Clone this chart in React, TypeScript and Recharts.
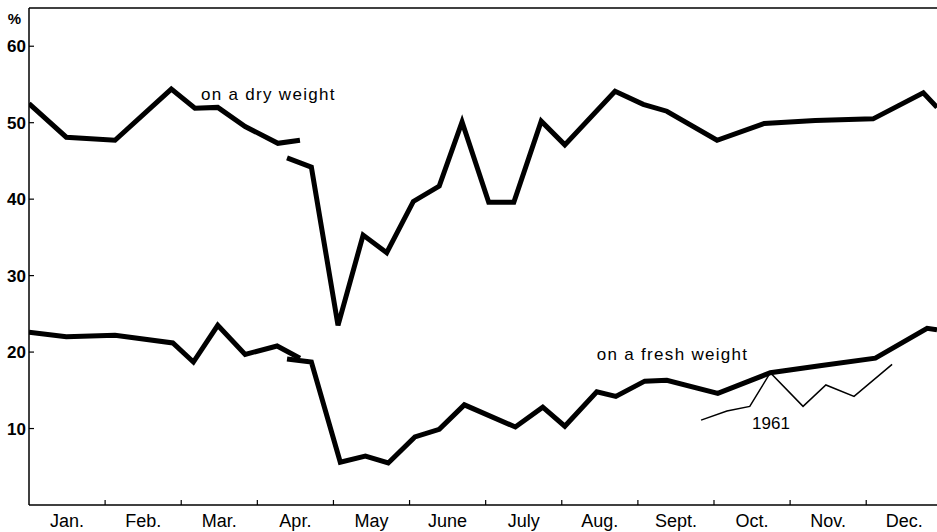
import { LineChart, Line, XAxis, YAxis, ReferenceLine, ReferenceDot } from 'recharts';

// month labels sit at the centre of each month, boundaries get a small tick
const monthLabels = ['Jan.', 'Feb.', 'Mar.', 'Apr.', 'May', 'June', 'July', 'Aug.', 'Sept.', 'Oct.', 'Nov.', 'Dec.'];
const monthCenters = [0.5, 1.5, 2.5, 3.5, 4.5, 5.5, 6.5, 7.5, 8.5, 9.5, 10.5, 11.5];
const monthBounds = [1, 2, 3, 4, 5, 6, 7, 8, 9, 10, 11];
const yTicks = [10, 20, 30, 40, 50, 60];

// x = position in months from 1 Jan, y = %
const dryEarlyX = [0.0, 0.49, 1.13, 1.87, 2.18, 2.48, 2.84, 3.27, 3.56];
const dryEarlyY = [52.5, 48.1, 47.7, 54.4, 51.9, 52.0, 49.5, 47.3, 47.7];

const dryLateX = [3.39, 3.71, 4.06, 4.39, 4.7, 5.05, 5.39, 5.69, 6.04, 6.37, 6.73, 7.04, 7.7, 8.07, 8.38, 9.04, 9.66, 10.33, 11.09, 11.75, 11.93];
const dryLateY = [45.4, 44.2, 23.5, 35.3, 33.0, 39.7, 41.7, 50.1, 39.6, 39.6, 50.2, 47.1, 54.1, 52.4, 51.5, 47.7, 49.9, 50.3, 50.5, 53.9, 52.0];

const freshEarlyX = [0.0, 0.49, 1.13, 1.89, 2.16, 2.48, 2.84, 3.26, 3.56];
const freshEarlyY = [22.6, 22.0, 22.2, 21.2, 18.7, 23.5, 19.7, 20.8, 19.2];

const freshLateX = [3.39, 3.71, 4.09, 4.42, 4.72, 5.07, 5.39, 5.72, 6.39, 6.75, 7.04, 7.46, 7.71, 8.09, 8.38, 9.05, 9.74, 10.39, 11.12, 11.8, 11.93];
const freshLateY = [19.1, 18.7, 5.6, 6.4, 5.5, 8.9, 9.9, 13.1, 10.2, 12.8, 10.3, 14.8, 14.2, 16.2, 16.3, 14.6, 17.3, 18.2, 19.2, 23.1, 22.9];

const fresh1961X = [8.83, 9.17, 9.47, 9.74, 10.17, 10.47, 10.84, 11.34];
const fresh1961Y = [11.1, 12.3, 12.9, 17.3, 12.9, 15.7, 14.2, 18.4];

const zip = (xs: number[], ys: number[]) => xs.map((m, i) => ({ m, v: ys[i] }));

const FONT = "'Liberation Sans', Arial, sans-serif";
const NARROW = "'Liberation Sans Narrow', 'Liberation Sans', Arial, sans-serif";

const MonthTick = (props: any) => {
  const { x, y, payload } = props;
  const v = payload.value;
  if (Number.isInteger(v)) {
    return <line x1={x} x2={x} y1={y} y2={y - 5} stroke="#000" strokeWidth={1.2} />;
  }
  return (
    <text x={x} y={y + 22} textAnchor="middle" fontSize={18} fontFamily={FONT} fill="#000">
      {monthLabels[Math.floor(v)]}
    </text>
  );
};

const noteLabel = (text: string, spacing = 1.3) => ({
  value: text,
  position: 'right' as const,
  offset: 0,
  fontSize: 17,
  fontFamily: FONT,
  fill: '#000',
  letterSpacing: spacing,
});

export default function App() {
  const thick = { stroke: '#000', strokeWidth: 5, dot: false, isAnimationActive: false, type: 'linear' as const, dataKey: 'v' };

  return (
    <div style={{ position: 'absolute', left: 0, top: 0, background: '#fff' }}>
      <LineChart width={937} height={532} margin={{ top: 8, right: 0, left: 0, bottom: 0 }}>
        <XAxis
          dataKey="m"
          type="number"
          domain={[0, 11.93]}
          allowDataOverflow
          ticks={[...monthBounds, ...monthCenters].sort((a, b) => a - b)}
          interval={0}
          tickLine={false}
          tickSize={0}
          tickMargin={0}
          tick={<MonthTick />}
          axisLine={{ stroke: '#000', strokeWidth: 1.5 }}
          height={27}
        />
        <YAxis
          type="number"
          domain={[0, 65]}
          ticks={yTicks}
          width={29}
          tickSize={-5}
          tickMargin={8}
          tickLine={{ stroke: '#000', strokeWidth: 1.2 }}
          axisLine={{ stroke: '#000', strokeWidth: 1.5 }}
          tick={{ fill: '#000', fontSize: 17, fontFamily: NARROW, fontWeight: 'bold' }}
          label={{ value: '%', position: 'insideTop', offset: 5, fontSize: 15, fontFamily: FONT, fontWeight: 'bold', fill: '#000' }}
        />
        <ReferenceLine y={65} stroke="#000" strokeWidth={1.5} />

        <Line {...thick} data={zip(dryEarlyX, dryEarlyY)} />
        <Line {...thick} data={zip(dryLateX, dryLateY)} />
        <Line {...thick} data={zip(freshEarlyX, freshEarlyY)} />
        <Line {...thick} data={zip(freshLateX, freshLateY)} />
        <Line {...thick} strokeWidth={1.5} data={zip(fresh1961X, fresh1961Y)} />

        <ReferenceDot x={2.26} y={53.75} r={0} fill="none" stroke="none" label={noteLabel('on a dry weight')} />
        <ReferenceDot x={7.46} y={19.75} r={0} fill="none" stroke="none" label={noteLabel('on a fresh weight')} />
        <ReferenceDot x={9.5} y={10.7} r={0} fill="none" stroke="none" label={noteLabel('1961', 0)} />
      </LineChart>
    </div>
  );
}
